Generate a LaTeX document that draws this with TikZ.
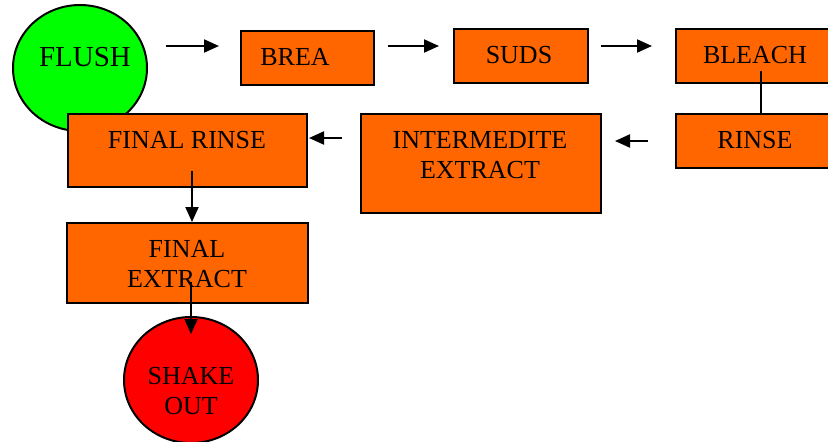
\documentclass[tikz,border=0pt]{standalone}
\usepackage{fontspec}
\setmainfont{Liberation Serif}
\usetikzlibrary{shapes.geometric,arrows.meta}
\definecolor{stepfill}{RGB}{255,102,0}
\definecolor{startfill}{RGB}{0,255,0}
\definecolor{endfill}{RGB}{255,0,0}
\begin{document}
\begin{tikzpicture}[x=1pt,y=-1pt,
  every node/.style={font=\fontsize{26}{30}\selectfont},
  stepbox/.style={draw=black,line width=2pt,fill=stepfill,rectangle,inner sep=0pt,anchor=north west},
  oval/.style={draw=black,line width=2pt,ellipse,inner sep=0pt,minimum width=134pt,minimum height=126pt},
  lbl/.style={inner sep=0pt,align=center},
  arr/.style={line width=2pt,-{Triangle[length=15pt,width=13pt]}},
  link/.style={line width=2pt}]
\useasboundingbox (0,0) rectangle (828,442);
\clip (0,0) rectangle (828,442);

% start and end ovals
\node[oval,fill=startfill] (flush) at (80,68) {};
\node[lbl,font=\fontsize{29}{33}\selectfont] (flush-t) at (85,57) {FLUSH};

% top row
\node[stepbox,minimum width=133pt,minimum height=54pt] (brea) at (240,30) {};
\node[lbl] (brea-t) at (295,57) {BREA};
\node[stepbox,minimum width=134pt,minimum height=54pt] (suds) at (453,28) {};
\node[lbl] (suds-t) at (519,55) {SUDS};
\node[stepbox,minimum width=170pt,minimum height=54pt] (bleach) at (675,28) {};
\node[lbl] (bleach-t) at (755,55) {BLEACH};

% second row
\node[stepbox,minimum width=170pt,minimum height=54pt] (rinse) at (675,113) {};
\node[lbl] (rinse-t) at (755,140) {RINSE};
\node[stepbox,minimum width=240pt,minimum height=99pt] (inter) at (360,113) {};
\node[lbl] (inter-t) at (480,155) {INTERMEDITE\\EXTRACT};
\node[stepbox,minimum width=239pt,minimum height=73pt] (frinse) at (67,113) {};
\node[lbl] (frinse-t) at (187,140) {FINAL RINSE};

% left column
\node[stepbox,minimum width=241pt,minimum height=80pt] (fextract) at (66,222) {};
\node[lbl] (fextract-t) at (187,264) {FINAL\\EXTRACT};
\node[oval,fill=endfill] (shake) at (191,380) {};
\node[lbl] (shake-t) at (191,391) {SHAKE\\OUT};

% connectors
\draw[arr] ([shift={(-74,-12)}]brea.west) -- ([shift={(-21,-12)}]brea.west);
\draw[arr] ([shift={(13,-12)}]brea.east) -- ([shift={(-14,-10)}]suds.west);
\draw[arr] ([shift={(12,-10)}]suds.east) -- ([shift={(-23,-10)}]bleach.west);
\draw[link] ([shift={(0,15)}]bleach.center) -- (rinse.north);
\draw[arr] ([shift={(-27,0)}]rinse.west) -- ([shift={(13,-22.5)}]inter.east);
\draw[arr] ([shift={(-18,-25.5)}]inter.west) -- ([shift={(1,-12.5)}]frinse.east);
\draw[arr] ([shift={(4.5,20.5)}]frinse.center) -- ([shift={(4.5,0)}]fextract.north);
\draw[arr] ([shift={(0,-98)}]shake.center) -- ([shift={(0,-46)}]shake.center);
\end{tikzpicture}
\end{document}
